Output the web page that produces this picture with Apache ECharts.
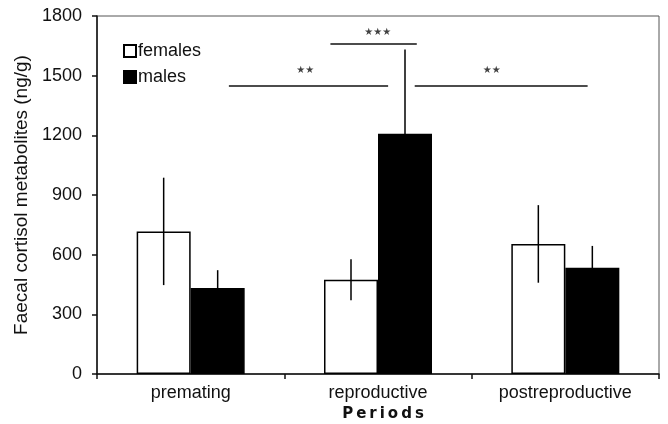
<!DOCTYPE html>
<html>
<head>
<meta charset="utf-8">
<script src="https://cdn.jsdelivr.net/npm/echarts@6/dist/echarts.min.js"></script>
<style>html,body{margin:0;padding:0;background:#fff}#c{width:668px;height:424px}</style>
</head>
<body>
<div id="c"></div>
<script>
const categories = ['premating', 'reproductive', 'postreproductive'];
const femalesMean = [717, 474, 654];
const femalesErr = [270, 103, 195];
const malesMean = [432, 1208, 534];
const malesErr = [90, 424, 110];
// significance brackets: [xStart, xEnd, y] on a 0..3 category-continuous scale
const sigLines = [[0.704, 1.554, 1448], [1.246, 1.707, 1659], [1.696, 2.619, 1448]];
const sigLabels = [[1.112, 1528, '★★'], [1.499, 1719, '★★★'], [2.107, 1528, '★★']];

const BAR_W = 54;
const FONT = '"Liberation Sans", Arial, sans-serif';

function errItem(sign) {
  return function (params, api) {
    const x = api.value(0), m = api.value(1), e = api.value(2);
    const top = api.coord([x, m + e]);
    const bot = api.coord([x, m - e]);
    const off = sign * BAR_W / 2;
    return {
      type: 'line',
      shape: { x1: top[0] + off, y1: top[1], x2: top[0] + off, y2: bot[1] },
      style: { stroke: '#000', lineWidth: 1.5 }
    };
  };
}

const sigSeries = sigLines.map(s => ({
  type: 'line', xAxisIndex: 1, yAxisIndex: 0, silent: true,
  symbol: 'none', data: [[s[0], s[2]], [s[1], s[2]]],
  lineStyle: { color: '#111', width: 1.5 }, z: 5
}));

const chart = echarts.init(document.getElementById('c'), null, { renderer: 'canvas' });
chart.setOption({
  animation: false,
  backgroundColor: '#fff',
  grid: { left: 97, right: 9, top: 16, bottom: 50, show: true, borderColor: '#555', borderWidth: 1,
          containLabel: false, outerBoundsMode: 'none' },
  legend: {
    data: ['females', 'males'], orient: 'vertical', left: 118, top: 37,
    icon: 'rect', itemWidth: 12, itemHeight: 12, itemGap: 8,
    textStyle: { fontFamily: FONT, fontSize: 18, color: '#111', padding: [0, 0, 0, -3] }
  },
  xAxis: [{
    type: 'category', data: categories,
    axisLine: { lineStyle: { color: '#111', width: 1.5 } },
    axisTick: { show: true, length: 5, lineStyle: { color: '#111', width: 1.5 } },
    axisLabel: { fontFamily: FONT, fontSize: 18, color: '#111', margin: 10 },
    name: 'P\u2009e\u2009r\u2009i\u2009o\u2009d\u2009s', nameLocation: 'middle', nameGap: 30,
    nameTextStyle: { fontFamily: '"DejaVu Sans", sans-serif', fontWeight: 'bold', fontSize: 15, color: '#111', padding: [0, 0, 0, 10] }
  }, {
    type: 'value', min: 0, max: 3, show: false
  }],
  yAxis: {
    type: 'value', min: 0, max: 1800, interval: 300,
    axisLine: { show: true, lineStyle: { color: '#111', width: 1.5 } },
    axisTick: { show: true, length: 5, lineStyle: { color: '#111', width: 1.5 } },
    splitLine: { show: false },
    axisLabel: { fontFamily: FONT, fontSize: 18, color: '#111', margin: 15, formatter: v => String(v) },
    name: 'Faecal cortisol metabolites (ng/g)', nameLocation: 'middle', nameGap: 59,
    nameTextStyle: { fontFamily: FONT, fontSize: 19, color: '#111' }
  },
  series: [
    { name: 'females', type: 'bar', data: femalesMean, barWidth: BAR_W, barGap: '0%',
      itemStyle: { color: '#fff', borderColor: '#000', borderWidth: 1.5 }, z: 2 },
    { name: 'males', type: 'bar', data: malesMean, barWidth: BAR_W,
      itemStyle: { color: '#000', borderColor: '#000', borderWidth: 1.5 }, z: 2 },
    { type: 'custom', silent: true, renderItem: errItem(-1), z: 4,
      data: categories.map((c, i) => [i, femalesMean[i], femalesErr[i]]) },
    { type: 'custom', silent: true, renderItem: errItem(1), z: 4,
      data: categories.map((c, i) => [i, malesMean[i], malesErr[i]]) },
    ...sigSeries,
    { type: 'scatter', xAxisIndex: 1, yAxisIndex: 0, silent: true, symbolSize: 0,
      data: sigLabels.map(s => ({ value: [s[0], s[1]], label: { formatter: s[2] } })),
      label: { show: true, position: 'inside', fontFamily: '"DejaVu Sans", sans-serif', fontSize: 10, color: '#111' } }
  ]
});
</script>
</body>
</html>
